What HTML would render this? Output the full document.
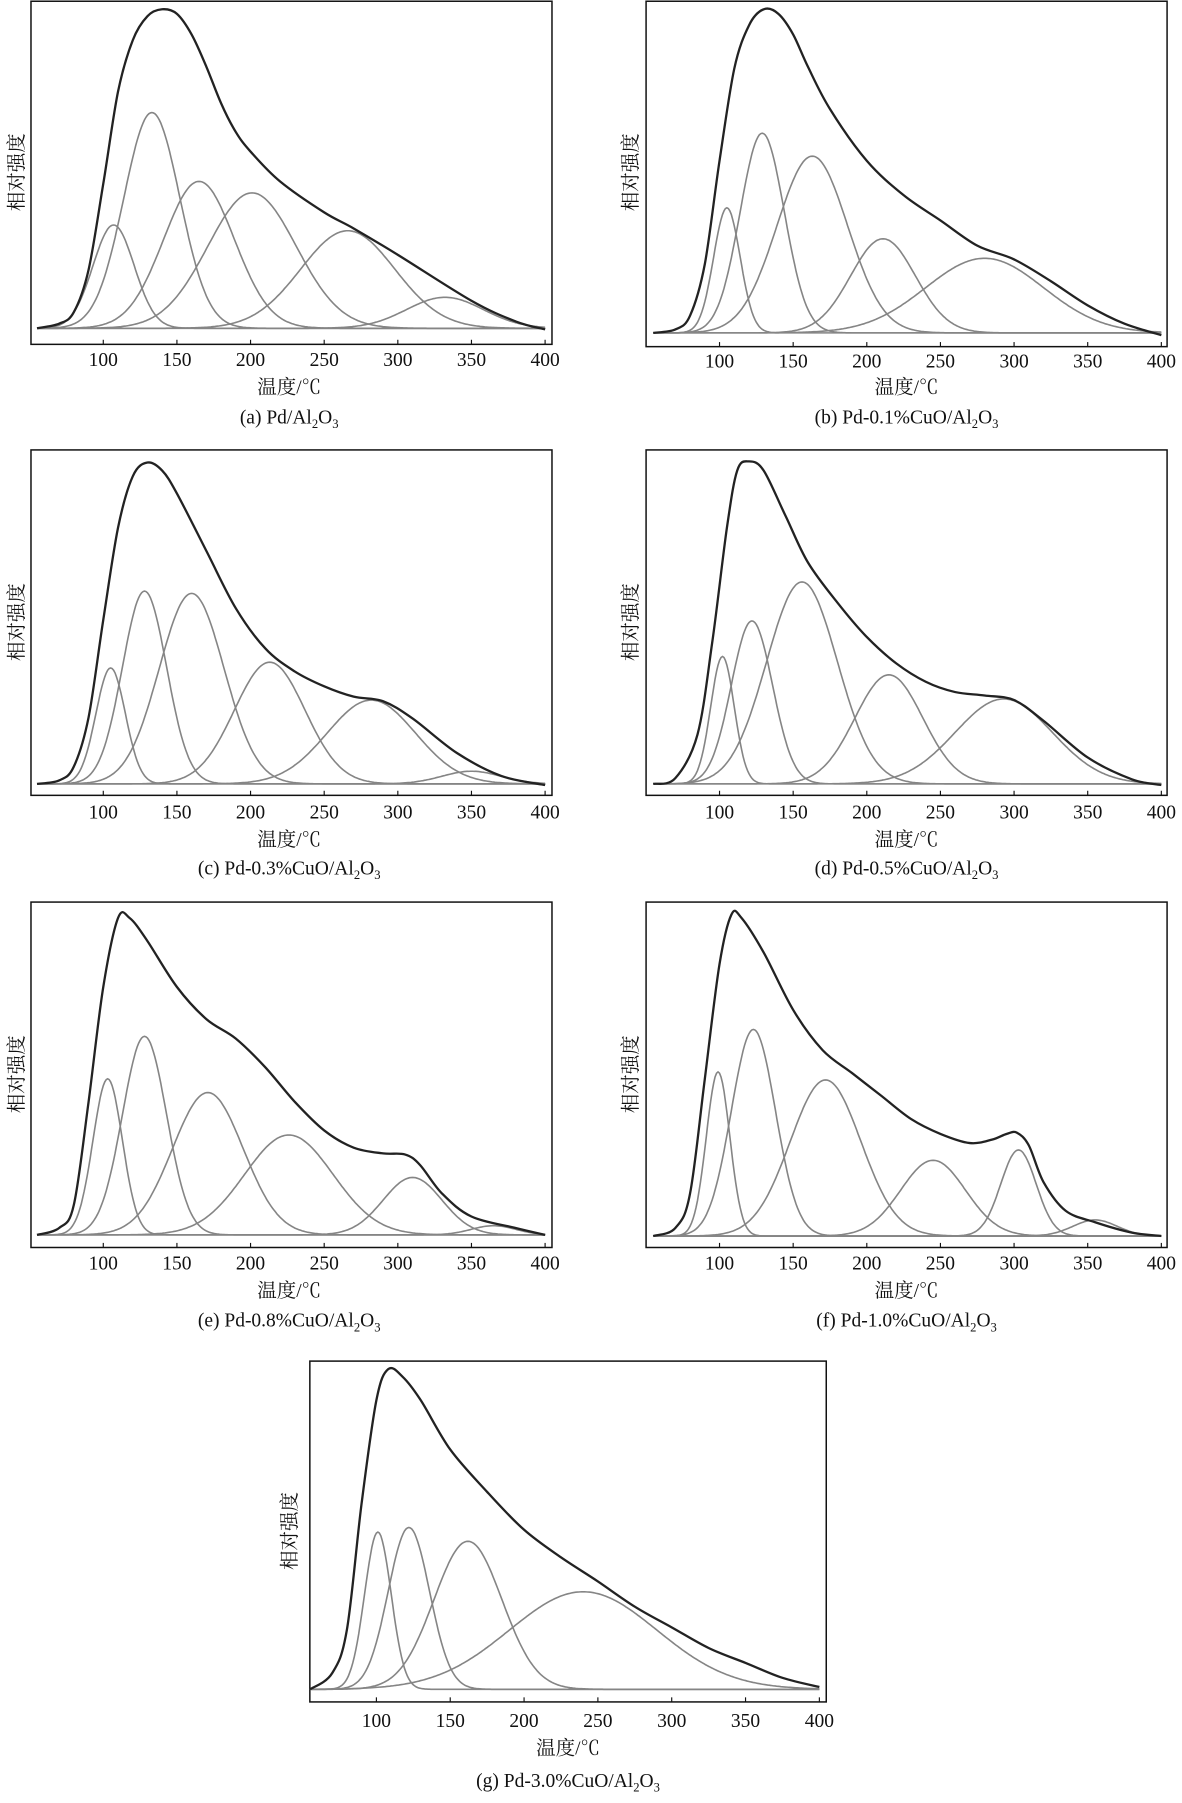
<!DOCTYPE html>
<html><head><meta charset="utf-8"><style>
html,body{margin:0;padding:0;background:#fff;}
svg{display:block;}
text{font-family:"Liberation Serif","Noto Serif CJK SC",serif;fill:#111;}
.cj{font-family:"Liberation Serif","Noto Serif CJK SC","Noto Sans CJK SC",serif;}
</style></head><body>
<svg id="s" width="1182" height="1803" viewBox="0 0 1030 1571" xmlns="http://www.w3.org/2000/svg">
<g id="plots"></g>
<g font-size="17" text-anchor="middle">
<text x="252" y="343" class="cj">温度/℃</text>
<text x="252" y="369">(a) Pd/Al<tspan font-size="11" dy="4">2</tspan><tspan dy="-4">O</tspan><tspan font-size="11" dy="4">3</tspan></text>
<text x="790" y="343" class="cj">温度/℃</text>
<text x="790" y="369">(b) Pd-0.1%CuO/Al<tspan font-size="11" dy="4">2</tspan><tspan dy="-4">O</tspan><tspan font-size="11" dy="4">3</tspan></text>
<text x="252" y="737" class="cj">温度/℃</text>
<text x="252" y="762">(c) Pd-0.3%CuO/Al<tspan font-size="11" dy="4">2</tspan><tspan dy="-4">O</tspan><tspan font-size="11" dy="4">3</tspan></text>
<text x="790" y="737" class="cj">温度/℃</text>
<text x="790" y="762">(d) Pd-0.5%CuO/Al<tspan font-size="11" dy="4">2</tspan><tspan dy="-4">O</tspan><tspan font-size="11" dy="4">3</tspan></text>
<text x="252" y="1130" class="cj">温度/℃</text>
<text x="252" y="1156">(e) Pd-0.8%CuO/Al<tspan font-size="11" dy="4">2</tspan><tspan dy="-4">O</tspan><tspan font-size="11" dy="4">3</tspan></text>
<text x="790" y="1130" class="cj">温度/℃</text>
<text x="790" y="1156">(f) Pd-1.0%CuO/Al<tspan font-size="11" dy="4">2</tspan><tspan dy="-4">O</tspan><tspan font-size="11" dy="4">3</tspan></text>
<text x="495" y="1529" class="cj">温度/℃</text>
<text x="495" y="1557">(g) Pd-3.0%CuO/Al<tspan font-size="11" dy="4">2</tspan><tspan dy="-4">O</tspan><tspan font-size="11" dy="4">3</tspan></text>
</g>
<g font-size="17" text-anchor="middle" class="cj">
<text transform="translate(20,150) rotate(-90)">相对强度</text>
<text transform="translate(555,150) rotate(-90)">相对强度</text>
<text transform="translate(20,542) rotate(-90)">相对强度</text>
<text transform="translate(555,542) rotate(-90)">相对强度</text>
<text transform="translate(20,936) rotate(-90)">相对强度</text>
<text transform="translate(555,936) rotate(-90)">相对强度</text>
<text transform="translate(258,1334) rotate(-90)">相对强度</text>
</g>
</svg>
<script>
var P=[
{f:[27,1,481,300],x1:90,x4:475,b:286,ly:319,
 c:[[107,90,14],[133,188,19],[165,128,24],[201,118,30],[266,85,32],[332,27,26]],
 e:[[55,286],[70,282],[80,272],[90,235],[100,160],[110,80],[120,35],[130,14],[140,8],[150,12],[160,30],[170,58],[180,90],[190,115],[200,132],[220,158],[250,185],[270,199],[300,222],[350,262],[380,280],[400,287]]},
{f:[563,1,1017,302],x1:627,x4:1012,b:290,ly:320,
 c:[[105,109,9],[129,174,15],[163,154,24],[211,82,22],[280,65,40]],
 e:[[55,290],[70,287],[80,275],[90,230],[100,140],[110,60],[120,22],[130,8],[140,12],[150,30],[160,58],[175,95],[200,140],[225,170],[250,192],[275,214],[300,226],[325,245],[350,266],[375,282],[400,292]]},
{f:[27,392,481,693],x1:90,x4:475,b:683,ly:713,
 c:[[105,101,10],[128,168,15],[160,166,22],[213,106,24],[282,73,30],[350,11,20]],
 e:[[55,683],[70,680],[80,668],[90,625],[100,540],[110,460],[120,415],[130,403],[140,410],[150,430],[170,480],[190,530],[210,565],[230,585],[250,598],[270,607],[290,611],[310,626],[340,656],[370,676],[400,684]]},
{f:[563,392,1017,693],x1:627,x4:1012,b:683,ly:713,
 c:[[102,111,8],[122,142,14],[156,176,24],[215,95,23],[293,74,33]],
 e:[[55,683],[70,678],[85,640],[95,560],[105,460],[112,410],[120,402],[130,410],[145,450],[160,490],[180,525],[200,555],[220,578],[240,594],[260,603],[280,606],[300,610],[320,628],[350,660],[380,679],[400,684]]},
{f:[27,786,481,1087],x1:90,x4:475,b:1076,ly:1106,
 c:[[103,136,10],[128,173,15],[171,124,24],[226,87,30],[310,50,20],[365,8,15]],
 e:[[55,1076],[70,1070],[80,1050],[90,960],[100,860],[110,800],[118,800],[130,820],[150,860],[170,888],[190,905],[210,930],[230,960],[250,985],[270,1000],[290,1005],[305,1006],[315,1015],[330,1040],[350,1060],[380,1070],[400,1076]]},
{f:[563,786,1017,1087],x1:627,x4:1012,b:1077,ly:1106,
 c:[[99,143,8],[123,180,15],[172,136,24],[245,66,22],[303,75,12],[355,14,15]],
 e:[[55,1077],[70,1070],[80,1040],[90,940],[100,840],[108,797],[115,800],[130,830],[150,880],[170,915],[190,935],[210,955],[230,975],[250,988],[270,996],[285,993],[295,988],[302,987],[310,998],[320,1030],[335,1055],[355,1065],[380,1074],[400,1077]]},
{f:[270,1186,720,1483],x1:328,x4:714,b:1472,ly:1505,
 c:[[101,137,9],[122,141,14],[162,129,23],[240,85,50]],
 e:[[55,1472],[70,1458],[80,1420],[90,1310],[100,1220],[108,1193],[118,1200],[130,1220],[150,1263],[175,1300],[200,1333],[225,1357],[250,1378],[275,1400],[300,1418],[325,1436],[350,1449],[375,1462],[400,1470]]}
];
var h='';
P.forEach(function(p){
 var sx=function(t){return p.x1+(t-100)*(p.x4-p.x1)/300;};
 var f=p.f;
 h+='<rect x="'+f[0]+'" y="'+f[1]+'" width="'+(f[2]-f[0])+'" height="'+(f[3]-f[1])+'" fill="none" stroke="#111" stroke-width="1.3"/>';
 for(var t=100;t<=400;t+=50){var x=sx(t);
  h+='<line x1="'+x+'" y1="'+f[3]+'" x2="'+x+'" y2="'+(f[3]-4)+'" stroke="#111" stroke-width="1"/>';
  h+='<text x="'+x+'" y="'+p.ly+'" font-size="17" text-anchor="middle">'+t+'</text>';}
 p.c.forEach(function(c){var d='';
  for(var t=55;t<=400;t+=1){var y=p.b-c[1]*Math.exp(-(t-c[0])*(t-c[0])/(2*c[2]*c[2]));
   d+=(t==55?'M':'L')+sx(t).toFixed(1)+','+y.toFixed(1);}
  h+='<path d="'+d+'" fill="none" stroke="#858585" stroke-width="1.4"/>';});
 var e=p.e.map(function(q){return [sx(q[0]),q[1]];});
 var d='M'+e[0][0]+','+e[0][1];
 for(var i=0;i<e.length-1;i++){var p0=e[Math.max(0,i-1)],p1=e[i],p2=e[i+1],p3=e[Math.min(e.length-1,i+2)];
  d+='C'+(p1[0]+(p2[0]-p0[0])/6).toFixed(1)+','+(p1[1]+(p2[1]-p0[1])/6).toFixed(1)+' '+(p2[0]-(p3[0]-p1[0])/6).toFixed(1)+','+(p2[1]-(p3[1]-p1[1])/6).toFixed(1)+' '+p2[0].toFixed(1)+','+p2[1].toFixed(1);}
 h+='<path d="'+d+'" fill="none" stroke="#222" stroke-width="2"/>';
});
document.getElementById('plots').innerHTML=h;
</script>
</body></html>
